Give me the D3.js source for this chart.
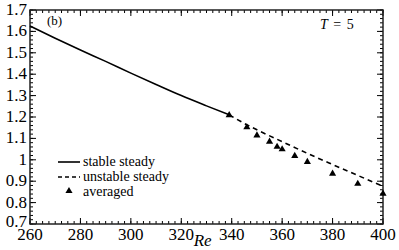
<!DOCTYPE html>
<html>
<head>
<meta charset="utf-8">
<script src="https://cdn.jsdelivr.net/npm/d3@7"></script>
<style>
  body { margin: 0; background: #fff; }
</style>
</head>
<body>
<div id="chart"></div>
<script>
// data
var stableRe = [260, 270, 280, 290, 300, 310, 320, 330, 339];
var stableVal = [1.625, 1.568, 1.513, 1.46, 1.405, 1.352, 1.30, 1.252, 1.21];
var unstableRe = [339, 345, 350, 360, 370, 380, 390, 400];
var unstableVal = [1.21, 1.17, 1.14, 1.085, 1.03, 0.978, 0.927, 0.876];
var avgRe = [339, 346, 350, 355, 358, 360, 365, 370, 380, 390, 400];
var avgVal = [1.209, 1.152, 1.114, 1.085, 1.061, 1.049, 1.018, 0.99, 0.935, 0.888, 0.842];
var xTicks = [260, 280, 300, 320, 340, 360, 380, 400];
var yTicks = [0.7, 0.8, 0.9, 1, 1.1, 1.2, 1.3, 1.4, 1.5, 1.6, 1.7];
var legendLabels = ["stable steady", "unstable steady", "averaged"];

var serif = '"Liberation Serif", "Times New Roman", Times, serif';

var margin = { top: 10, right: 16, bottom: 26, left: 30 },
    width = 399 - margin.left - margin.right,
    height = 250 - margin.top - margin.bottom;

var xscale = d3.scaleLinear().domain([260, 400]).range([0, width]);
var yscale = d3.scaleLinear().domain([0.7, 1.7]).range([height, 0]);

var svg = d3.select("#chart").append("svg")
    .attr("width", 399)
    .attr("height", 250)
    .style("font-family", serif)
    .append("g")
    .attr("transform", "translate(" + margin.left + "," + margin.top + ")");

// minor ticks
var xMinor = d3.range(260, 400.01, 2.5);
var yMinor = d3.range(0.7, 1.7001, 0.02);

function tickLines(g, vals, scale, horizontal, len) {
    vals.forEach(function (v) {
        if (horizontal) {
            g.append("line").attr("x1", scale(v)).attr("x2", scale(v))
                .attr("y1", height).attr("y2", height - len);
            g.append("line").attr("x1", scale(v)).attr("x2", scale(v))
                .attr("y1", 0).attr("y2", len);
        } else {
            g.append("line").attr("y1", scale(v)).attr("y2", scale(v))
                .attr("x1", 0).attr("x2", len);
            g.append("line").attr("y1", scale(v)).attr("y2", scale(v))
                .attr("x1", width).attr("x2", width - len);
        }
    });
}

var ticks = svg.append("g").attr("stroke", "#000").attr("stroke-width", 1);
tickLines(ticks, xMinor, xscale, true, 3);
tickLines(ticks, xTicks, xscale, true, 6);
tickLines(ticks, yMinor, yscale, false, 3);
tickLines(ticks, yTicks, yscale, false, 6);

// frame
svg.append("rect")
    .attr("width", width)
    .attr("height", height)
    .attr("fill", "none")
    .attr("stroke", "#222")
    .attr("stroke-width", 1.5);

// tick labels
svg.selectAll(".xl")
    .data(xTicks)
    .enter().append("text")
    .attr("x", function (d) { return xscale(d); })
    .attr("y", height + 16)
    .attr("text-anchor", "middle")
    .style("font-family", serif)
    .style("font-size", "17px")
    .text(function (d) { return d; });

svg.selectAll(".yl")
    .data(yTicks)
    .enter().append("text")
    .attr("x", -3)
    .attr("y", function (d) { return yscale(d) + (d === 0.7 ? 3 : 5); })
    .attr("text-anchor", "end")
    .style("font-family", serif)
    .style("font-size", "17px")
    .text(function (d) { return d3.format(".1f")(d).replace(/\.0$/, ""); });

// axis title
svg.append("text")
    .attr("x", xscale(328.5))
    .attr("y", height + 22)
    .attr("text-anchor", "middle")
    .style("font-family", serif)
    .style("font-size", "17px")
    .style("font-style", "italic")
    .text("Re");

svg.append("text")
    .attr("x", 17)
    .attr("y", 15)
    .style("font-family", serif)
    .style("font-size", "13px")
    .text("(b)");

var tlab = svg.append("text")
    .attr("x", 290)
    .attr("y", 19)
    .style("font-family", serif)
    .style("font-size", "14px")
    .style("word-spacing", "2px");
tlab.append("tspan").style("font-style", "italic").text("T");
tlab.append("tspan").text(" = 5");

var line = d3.line()
    .x(function (d) { return xscale(d[0]); })
    .y(function (d) { return yscale(d[1]); })
    .curve(d3.curveMonotoneX);

svg.append("path")
    .datum(d3.zip(stableRe, stableVal))
    .attr("fill", "none")
    .attr("stroke", "#000")
    .attr("stroke-width", 1.6)
    .attr("d", line);

svg.append("path")
    .datum(d3.zip(unstableRe, unstableVal))
    .attr("fill", "none")
    .attr("stroke", "#000")
    .attr("stroke-width", 1.6)
    .attr("stroke-dasharray", "5,4")
    .attr("d", line);

var tri = d3.symbol().type(d3.symbolTriangle).size(22);

svg.selectAll(".dot")
    .data(d3.zip(avgRe, avgVal))
    .enter().append("path")
    .attr("transform", function (d) { return "translate(" + xscale(d[0]) + "," + yscale(d[1]) + ")"; })
    .attr("d", tri)
    .attr("fill", "#000");

// legend
var leg = svg.append("g").attr("transform", "translate(28,152)");
leg.append("line").attr("x1", 0).attr("x2", 22).attr("y1", 0).attr("y2", 0)
    .attr("stroke", "#000").attr("stroke-width", 1.6);
leg.append("line").attr("x1", 0).attr("x2", 22).attr("y1", 15).attr("y2", 15)
    .attr("stroke", "#000").attr("stroke-width", 1.6).attr("stroke-dasharray", "4,3");
leg.append("path").attr("transform", "translate(11,29)").attr("d", tri).attr("fill", "#000");
leg.selectAll(".lt")
    .data(legendLabels)
    .enter().append("text")
    .attr("x", 25)
    .attr("y", function (d, i) { return i * 15 + 4; })
    .style("font-family", serif)
    .style("font-size", "14px")
    .text(function (d) { return d; });
</script>
</body>
</html>
